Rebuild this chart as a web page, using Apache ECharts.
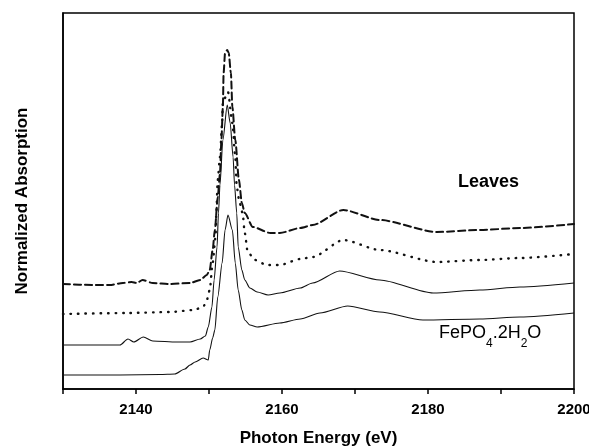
<!DOCTYPE html>
<html lang="en">
<head>
    <meta charset="UTF-8">
    <title>S K-edge XANES</title>
    <script src="https://cdn.jsdelivr.net/npm/echarts@6/dist/echarts.min.js"></script>
    <style>
        body { margin: 0; padding: 0; background: #fff; }
        #main { width: 589px; height: 447px; }
    </style>
</head>
<body>
    <div id="main"></div>
    <script type="text/javascript">
        // photon energy (eV) / normalized absorption (arbitrary offset units)
        var leavesDashed = [
            [2130, 105], [2134.1, 104], [2136.4, 104], [2138.2, 106], [2139.4, 107], [2140.1, 106],
            [2140.9, 109], [2142.3, 106], [2144.7, 105], [2147.4, 106], [2148.8, 109], [2149.7, 114],
            [2150.1, 119], [2150.5, 139], [2150.8, 159], [2151.2, 192], [2151.5, 215], [2151.7, 249],
            [2151.9, 282], [2152.0, 316], [2152.2, 336], [2152.5, 339], [2152.7, 336], [2153.0, 316],
            [2153.2, 282], [2153.6, 249], [2154.1, 209], [2154.5, 186], [2154.9, 176], [2156.0, 162],
            [2158.4, 156], [2159.7, 156], [2162.5, 161], [2164.2, 164], [2168.4, 179], [2173.4, 169],
            [2181.2, 157], [2187.1, 159], [2192.6, 161], [2200, 165]
        ];
        var leavesDotted = [
            [2130, 75], [2138.8, 76], [2144.7, 77], [2147.9, 79], [2149.2, 82], [2149.7, 89],
            [2150.1, 99], [2150.5, 126], [2150.9, 152], [2151.0, 176], [2151.2, 209], [2151.5, 232],
            [2151.8, 266], [2151.9, 287], [2152.6, 297], [2153.2, 266], [2153.6, 232], [2153.8, 202],
            [2154.2, 186], [2154.6, 176], [2154.9, 156], [2155.3, 137], [2156.3, 129], [2157.9, 124],
            [2159.7, 124], [2162.5, 130], [2164.2, 132], [2168.4, 149], [2173.4, 139], [2181.2, 127],
            [2187.1, 129], [2192.6, 131], [2200, 135]
        ];
        var leavesSolid = [
            [2130, 44], [2137.8, 44], [2138.9, 50], [2139.7, 47], [2141.0, 52], [2142.3, 48],
            [2145.6, 47], [2147.4, 47], [2148.8, 50], [2149.5, 53], [2149.9, 62], [2150.4, 82],
            [2150.7, 109], [2151.1, 142], [2151.3, 176], [2151.5, 204], [2151.9, 249], [2152.5, 284],
            [2152.9, 266], [2153.3, 232], [2153.5, 204], [2153.8, 176], [2154.0, 142], [2154.5, 119],
            [2154.9, 109], [2155.6, 101], [2156.6, 97], [2158.1, 94], [2159.7, 96], [2162.5, 101],
            [2164.2, 106], [2167.9, 118], [2173.4, 109], [2180.7, 96], [2187.1, 99], [2192.6, 102],
            [2200, 106]
        ];
        var fePO4 = [
            [2130, 14], [2137.8, 14], [2143.3, 14.5], [2145.3, 15], [2146.7, 20], [2147.4, 24],
            [2148.1, 27], [2149.2, 31], [2149.9, 29], [2150.1, 39], [2150.5, 51], [2150.8, 59],
            [2151.2, 92], [2151.8, 126], [2152.2, 159], [2152.6, 174], [2153.2, 159], [2153.6, 126],
            [2154.0, 99], [2154.5, 79], [2154.9, 69], [2155.6, 64], [2156.6, 62], [2159.7, 66],
            [2162.5, 70], [2165.2, 76], [2169.0, 83], [2173.4, 77], [2179.3, 69], [2187.1, 70],
            [2192.6, 72], [2200, 76]
        ];
        var xTickLabels = [2140, 2160, 2180, 2200];

        var myChart = echarts.init(document.getElementById('main'));

        function curve(name, data, type, width) {
            return {
                name: name,
                type: 'line',
                data: data,
                showSymbol: false,
                smooth: 0.25,
                smoothMonotone: 'x',
                lineStyle: { color: '#111', width: width, type: type, cap: type === 'solid' ? 'butt' : 'round' }
            };
        }

        var option = {
            backgroundColor: '#fff',
            animation: false,
            grid: {
                left: 63, right: 15, top: 13, bottom: 58,
                outerBoundsMode: 'none',
                show: true, borderColor: '#000', borderWidth: 1.5, backgroundColor: 'transparent'
            },
            xAxis: {
                type: 'value',
                min: 2130, max: 2200, interval: 10,
                name: 'Photon Energy (eV)',
                nameLocation: 'middle',
                nameGap: 41,
                nameTextStyle: { fontFamily: 'Liberation Sans', fontSize: 17, fontWeight: 'bold', color: '#000' },
                axisLine: { lineStyle: { color: '#000', width: 1.5 } },
                axisTick: { length: 5, lineStyle: { color: '#000', width: 1.5 } },
                axisLabel: {
                    margin: 13,
                    fontFamily: 'Liberation Sans', fontSize: 15, fontWeight: 'bold', color: '#000',
                    formatter: function (v) { return xTickLabels.indexOf(v) >= 0 ? String(v) : ''; }
                },
                splitLine: { show: false }
            },
            yAxis: {
                type: 'value',
                min: 0, max: 376,
                name: 'Normalized Absorption',
                nameLocation: 'middle',
                nameGap: 32,
                nameTextStyle: { fontFamily: 'Liberation Sans', fontSize: 17, fontWeight: 'bold', color: '#000' },
                axisLine: { show: true, lineStyle: { color: '#000', width: 1.5 } },
                axisTick: { show: false },
                axisLabel: { show: false },
                splitLine: { show: false }
            },
            series: [
                curve('Leaves (dashed)', leavesDashed, [7, 4], 2),
                curve('Leaves (dotted)', leavesDotted, [0.5, 7], 2.4),
                curve('Leaves (solid)', leavesSolid, 'solid', 1.1),
                curve('FePO4.2H2O', fePO4, 'solid', 1.1)
            ],
            graphic: [
                {
                    type: 'text', left: 458, top: 173,
                    style: { text: 'Leaves', font: 'bold 18px "Liberation Sans"', fill: '#000' }
                },
                {
                    type: 'text', left: 439, top: 324,
                    style: {
                        text: '{a|FePO}{s|4}{a|.2H}{s|2}{a|O}',
                        fill: '#000',
                        rich: {
                            a: { fontFamily: 'Liberation Sans', fontSize: 18, lineHeight: 18, verticalAlign: 'top', color: '#000' },
                            s: { fontFamily: 'Liberation Sans', fontSize: 12, lineHeight: 26, verticalAlign: 'bottom', color: '#000' }
                        }
                    }
                }
            ]
        };
        myChart.setOption(option);
    </script>
</body>
</html>
